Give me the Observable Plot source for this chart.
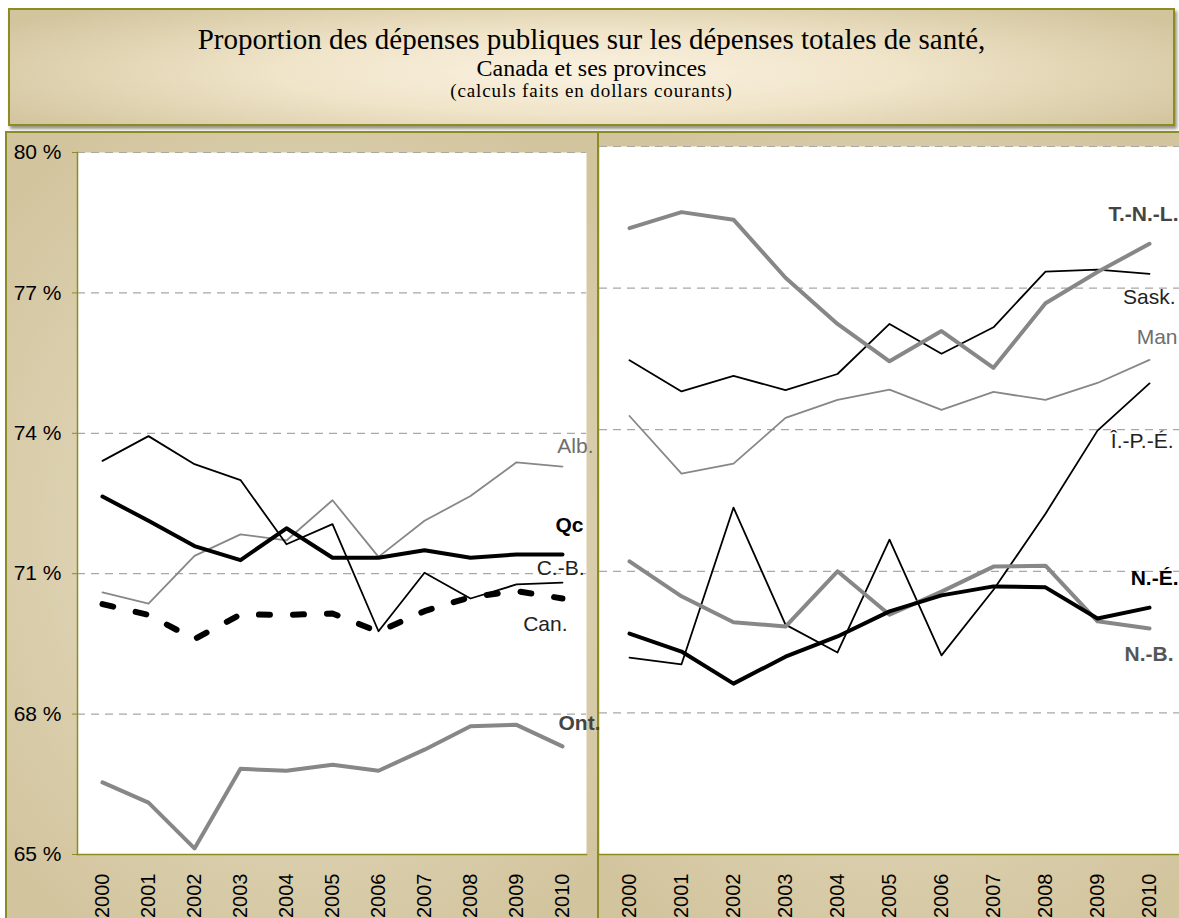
<!DOCTYPE html>
<html>
<head>
<meta charset="utf-8">
<script src="https://cdn.jsdelivr.net/npm/d3@7"></script>
<script src="https://cdn.jsdelivr.net/npm/@observablehq/plot@0.6"></script>
<style>
html,body{margin:0;padding:0;width:1179px;height:918px;overflow:hidden;background:#fff;font-family:"Liberation Sans",Arial,sans-serif;}
#title{position:absolute;left:8px;top:8px;width:1167px;height:118px;box-sizing:border-box;border:2px solid #8c8c24;
  background:radial-gradient(ellipse 60% 80% at 50% 55%, #faf2e1 0%, #f0e4c9 45%, #d2c49d 100%);
  box-shadow:2px 3px 3px rgba(70,60,30,0.55);text-align:center;font-family:"Liberation Serif","Times New Roman",serif;color:#000;}
#title div{position:absolute;left:0;right:0;white-space:nowrap;}
#title .l1{font-size:29px;top:13px;}
#title .l2{font-size:24px;top:45px;}
#title .l3{font-size:19px;top:70px;letter-spacing:0.9px;}
.panel{position:absolute;top:131px;height:800px;border-left:2px solid #8c8c24;border-top:2px solid #8c8c24;box-sizing:border-box;
  background:radial-gradient(ellipse 70% 60% at 50% 50%, #e6dcc0 0%, #ddd2b3 50%, #d2c49d 100%);}
#lp{left:5px;width:594px;}
#rp{left:597px;width:600px;}
#left,#right{position:absolute;top:132px;}
#left{left:6px;}
#right{left:599px;}
</style>
</head>
<body>
<div id="title">
  <div class="l1">Proportion des dépenses publiques sur les dépenses totales de santé,</div>
  <div class="l2">Canada et ses provinces</div>
  <div class="l3">(calculs faits en dollars courants)</div>
</div>
<div class="panel" id="lp"></div>
<div class="panel" id="rp"></div>
<div id="left"></div>
<div id="right"></div>
<script>
// ---- Data ----
const years = [2000, 2001, 2002, 2003, 2004, 2005, 2006, 2007, 2008, 2009, 2010];
const yTicks = [65, 68, 71, 74, 77, 80];
const gridTicks = [68, 71, 74, 77, 80];

// Left panel
const qc  = [72.65, 72.13, 71.59, 71.29, 71.97, 71.34, 71.34, 71.50, 71.34, 71.41, 71.41];
const cb  = [73.41, 73.94, 73.34, 73.00, 71.63, 72.06, 69.77, 71.02, 70.47, 70.77, 70.81];
const alb = [70.60, 70.36, 71.38, 71.84, 71.71, 72.57, 71.36, 72.13, 72.66, 73.38, 73.29];
const can = [70.35, 70.12, 69.60, 70.13, 70.12, 70.15, 69.76, 70.20, 70.50, 70.63, 70.47];
const ont = [66.54, 66.11, 65.13, 66.83, 66.79, 66.92, 66.79, 67.24, 67.74, 67.77, 67.31];

// Right panel
const tnl  = [78.27, 78.61, 78.45, 77.22, 76.24, 75.45, 76.09, 75.31, 76.68, 77.34, 77.94];
const sask = [75.47, 74.81, 75.14, 74.84, 75.18, 76.24, 75.61, 76.17, 77.35, 77.39, 77.30];
const man  = [74.29, 73.07, 73.28, 74.25, 74.63, 74.85, 74.42, 74.80, 74.63, 74.99, 75.48];
const ipe  = [69.17, 69.03, 72.35, 69.87, 69.28, 71.67, 69.22, 70.61, 72.22, 73.98, 74.98];
const ne   = [69.68, 69.30, 68.62, 69.19, 69.62, 70.15, 70.49, 70.68, 70.66, 70.00, 70.23];
const nb   = [71.21, 70.47, 69.92, 69.83, 71.00, 70.08, 70.57, 71.10, 71.12, 69.94, 69.79];

// ---- Helpers ----
const olive = "#8c8c24";
const grayLine = "#878787";
const long = (values) => years.map((year, i) => ({year, value: values[i]}));
const line = (values, opts) => Plot.line(long(values), {x: "year", y: "value", strokeLinejoin: "round", ...opts});
const label = (txt, values, opts) =>
  Plot.text([{year: years[years.length - 1], value: values[values.length - 1]}],
    {x: "year", y: "value", text: () => txt, textAnchor: "end", fontSize: 20, ...opts});
const grid = () => Plot.ruleY(gridTicks, {stroke: "#a8a8a8", strokeWidth: 1.2, strokeDasharray: "8,6"});
const common = {
  height: 786,
  marginBottom: 64,
  style: {background: "transparent", fontFamily: "'Liberation Sans', Arial, sans-serif", fontSize: "20px", color: "#000", overflow: "visible"},
  x: {type: "point", domain: years, padding: 0.5},
  y: {domain: [65, 80]}
};
const xAxis = () => Plot.axisX({tickRotate: -90, tickSize: 0, tickPadding: 19, tickFormat: d => String(d), fontSize: 20, fill: "#000", label: null});

// ---- Left chart ----
const left = Plot.plot({
  ...common,
  width: 592,
  marginLeft: 71,
  marginRight: 12,
  marginTop: 20,
  marks: [
    Plot.frame({fill: "white", stroke: "none"}),
    grid(),
    line(ont, {stroke: grayLine, strokeWidth: 4}),
    line(alb, {stroke: grayLine, strokeWidth: 1.8}),
    line(cb, {stroke: "#000", strokeWidth: 1.8}),
    line(can, {stroke: "#000", strokeWidth: 6, strokeDasharray: "11,23", strokeLinejoin: "miter"}),
    line(qc, {stroke: "#000", strokeWidth: 4}),
    label("Alb.", alb, {dx: 31, dy: -20, fill: "#6e6e6e", fontSize: 21}),
    label("Qc", qc, {dx: 21, dy: -29, fill: "#000", fontWeight: "bold", fontSize: 21}),
    label("C.-B.", cb, {dx: 22, dy: -14, fill: "#222", fontSize: 21}),
    label("Can.", can, {dx: 5, dy: 26, fill: "#222", fontSize: 21}),
    label("Ont.", ont, {dx: 38, dy: -23, fill: "#444", fontWeight: "bold", fontSize: 21}),
    Plot.frame({anchor: "left", stroke: olive, strokeWidth: 1.5}),
    Plot.frame({anchor: "bottom", stroke: olive, strokeWidth: 1.5}),
    Plot.axisY(yTicks, {tickFormat: d => `${d} %`, tickSize: 5, tickPadding: 11, stroke: olive, fill: "#000", fontSize: 21, label: null}),
    xAxis()
  ]
});
document.getElementById("left").appendChild(left);

// ---- Right chart ----
const right = Plot.plot({
  ...common,
  width: 580,
  marginLeft: 0,
  marginRight: 0,
  marginTop: 14,
  marks: [
    Plot.frame({fill: "white", stroke: "none"}),
    grid(),
    line(man, {stroke: grayLine, strokeWidth: 1.8}),
    line(sask, {stroke: "#000", strokeWidth: 1.8}),
    line(ipe, {stroke: "#000", strokeWidth: 1.8}),
    line(tnl, {stroke: grayLine, strokeWidth: 4}),
    line(nb, {stroke: grayLine, strokeWidth: 4}),
    line(ne, {stroke: "#000", strokeWidth: 4}),
    label("T.-N.-L.", tnl, {dx: 29, dy: -29, fill: "#444", fontWeight: "bold", fontSize: 21}),
    label("Sask.", sask, {dx: 26, dy: 23, fill: "#222", fontSize: 21}),
    label("Man", man, {dx: 28, dy: -23, fill: "#6e6e6e", fontSize: 21}),
    label("Î.-P.-É.", ipe, {dx: 24, dy: 58, fill: "#222", fontSize: 21}),
    label("N.-É.", ne, {dx: 29, dy: -29, fill: "#000", fontWeight: "bold", fontSize: 21}),
    label("N.-B.", nb, {dx: 24, dy: 26, fill: "#555", fontWeight: "bold", fontSize: 21}),
    Plot.frame({anchor: "bottom", stroke: olive, strokeWidth: 1.5}),
    Plot.axisY(yTicks, {tickFormat: null, tickSize: 0, label: null, text: null}),
    xAxis()
  ]
});
document.getElementById("right").appendChild(right);
</script>
</body>
</html>
